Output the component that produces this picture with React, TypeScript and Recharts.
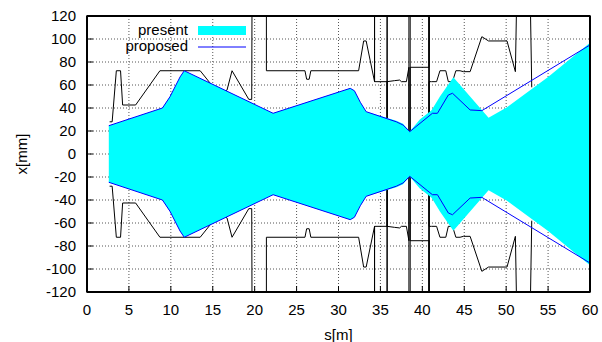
import { ComposedChart, Area, Line, XAxis, YAxis, CartesianGrid, ReferenceArea } from "recharts";

const FONT = '"Liberation Sans", Arial, Helvetica, sans-serif';

const S_TICKS = [0, 5, 10, 15, 20, 25, 30, 35, 40, 45, 50, 55, 60];
const X_TICKS = [-120, -100, -80, -60, -40, -20, 0, 20, 40, 60, 80, 100, 120];

// beam half-width, present optics [s(m), x(mm)]
const present: [number, number][] = [
  [2.6, 24.6], [9.0, 40], [9.9, 50], [11.1, 67], [11.6, 72.4], [22.2, 35.4],
  [31.4, 57.1], [31.9, 55], [32.6, 45], [33.3, 36.8], [36.9, 29], [37.7, 26.2],
  [38.5, 19.6], [39.7, 30], [41.1, 38], [42.1, 50], [43.7, 66.7], [47.9, 31.6],
  [50.1, 40.6], [55.0, 67], [60.0, 96.8],
];

// beam half-width, proposed optics
const proposed: [number, number][] = [
  [2.6, 24.6], [9.0, 40], [9.9, 49.8], [11.1, 67], [11.6, 72.4], [22.2, 35.4],
  [31.4, 57.1], [31.9, 55], [32.6, 45], [33.3, 36.8], [36.9, 28], [37.7, 25.2],
  [38.5, 19.4], [41.2, 35.4], [41.8, 35.4], [43.1, 51.3], [43.6, 52.8],
  [45.7, 38.3], [47.1, 37.7], [60.0, 94.8],
];

// aperture (upper side), values beyond +-120 run off the frame
const aperture: [number, number][] = [
  [2.7, 28], [3.0, 28], [3.5, 72.4], [4.0, 72.4], [4.25, 42.6], [5.8, 42.6],
  [8.7, 72.4], [13.5, 72.4], [14.7, 61.5], [15.6, 50], [16.7, 55.6], [17.3, 72.4],
  [19.3, 47.5], [19.65, 47.5], [19.75, 300], [21.4, 300], [21.4, 72.4],
  [26.0, 72.4], [26.2, 65], [26.5, 65], [26.7, 72.4], [32.4, 72.4], [33.0, 98.3],
  [33.3, 98.3], [34.3, 62.9], [34.3, 300], [34.3, 62.9], [35.8, 62.9],
  [35.8, -300], [35.8, 62.9], [36.7, 63.8], [37.3, 64.3], [37.5, 62.9],
  [38.1, 62.9], [38.4, 75.4], [38.4, -300], [38.55, -300], [38.55, 75.4],
  [40.8, 75.4], [40.8, 300], [40.8, -300], [40.8, 62.9], [41.1, 62.9],
  [41.7, 62.9], [42.1, 72.4], [42.8, 72.4], [43.1, 62.9], [43.6, 62.9],
  [44.0, 72.4], [44.5, 72.4], [44.9, 71.6], [45.7, 71.6], [47.1, 102],
  [47.9, 98.3], [50.1, 98.3], [51.1, 71.6], [51.65, 300], [52.5, 300], [53.05, 58],
];

const presentBand = present.map(([s, x]) => ({ s, band: [-x, x] }));
const proposedUp = proposed.map(([s, x]) => ({ s, v: x }));
const proposedDown = proposed.map(([s, x]) => ({ s, v: -x }));
const apertureUp = aperture.map(([s, x]) => ({ s, v: x }));
const apertureDown = aperture.map(([s, x]) => ({ s, v: -x }));

const tickStyle = { fill: "#000", fontSize: 15, fontFamily: FONT };
const frame = { stroke: "black", strokeWidth: 2 };
const tickMark = { stroke: "black", strokeWidth: 1 };

function YTitle() {
  return (
    <text
      x={21}
      y={154}
      transform="rotate(-90 21 154)"
      textAnchor="middle"
      dominantBaseline="central"
      fontSize={15}
      fontFamily={FONT}
      fill="#000"
    >
      x[mm]
    </text>
  );
}

// key drawn inside the chart svg, top-left of the plot
function Key() {
  return (
    <g>
      <text x={188} y={35} textAnchor="end" fontSize={15} fontFamily={FONT} fill="#000">present</text>
      <rect x={198} y={26} width={48} height={9} fill="#00ffff" />
      <text x={188} y={51} textAnchor="end" fontSize={15} fontFamily={FONT} fill="#000">proposed</text>
      <line x1={198} x2={246} y1={47} y2={47} stroke="#0000ff" strokeWidth={1} />
    </g>
  );
}

export default function App() {
  return (
    <div style={{ position: "absolute", left: 0, top: 0, width: 602, height: 342, background: "#fff" }}>
      <ComposedChart width={602} height={342} margin={{ top: 15, right: 11, bottom: 0, left: 0 }}>
        <CartesianGrid stroke="#555" strokeDasharray="1 2" />
        <XAxis
          dataKey="s"
          type="number"
          domain={[0, 60]}
          ticks={S_TICKS}
          interval={0}
          allowDataOverflow
          height={50}
          tickSize={-6}
          tickMargin={18}
          tick={tickStyle}
          axisLine={frame}
          tickLine={tickMark}
          label={{
            value: "s[m]",
            position: "insideBottom",
            offset: 2,
            fill: "#000",
            fontSize: 15,
            fontFamily: FONT,
          }}
        />
        <XAxis
          xAxisId="top"
          orientation="top"
          type="number"
          domain={[0, 60]}
          ticks={S_TICKS}
          interval={0}
          height={1}
          tick={false}
          tickSize={-6}
          axisLine={frame}
          tickLine={tickMark}
          label={{ content: () => <Key /> }}
        />
        <YAxis
          type="number"
          domain={[-120, 120]}
          ticks={X_TICKS}
          interval={0}
          allowDataOverflow
          width={87}
          tickSize={-6}
          tickMargin={17}
          tick={tickStyle}
          axisLine={frame}
          tickLine={tickMark}
          label={{ content: () => <YTitle /> }}
        />
        <YAxis
          yAxisId="right"
          orientation="right"
          type="number"
          domain={[-120, 120]}
          ticks={X_TICKS}
          interval={0}
          width={1}
          tick={false}
          tickSize={-6}
          axisLine={frame}
          tickLine={tickMark}
        />
        <Area data={apertureUp} dataKey="v" type="linear" fill="none" stroke="#000" strokeWidth={1} isAnimationActive={false} />
        <Area data={apertureDown} dataKey="v" type="linear" fill="none" stroke="#000" strokeWidth={1} isAnimationActive={false} />
        <Area data={presentBand} dataKey="band" type="linear" fill="#00ffff" fillOpacity={1} stroke="none" isAnimationActive={false} />
        <Line data={proposedUp} dataKey="v" type="linear" stroke="#0000ff" strokeWidth={1} dot={false} activeDot={false} isAnimationActive={false} />
        <Line data={proposedDown} dataKey="v" type="linear" stroke="#0000ff" strokeWidth={1} dot={false} activeDot={false} isAnimationActive={false} />
        <ReferenceArea x1={0} x2={60} y1={-120} y2={120} fill="none" stroke="black" strokeWidth={1.5} ifOverflow="visible" />
      </ComposedChart>
    </div>
  );
}
